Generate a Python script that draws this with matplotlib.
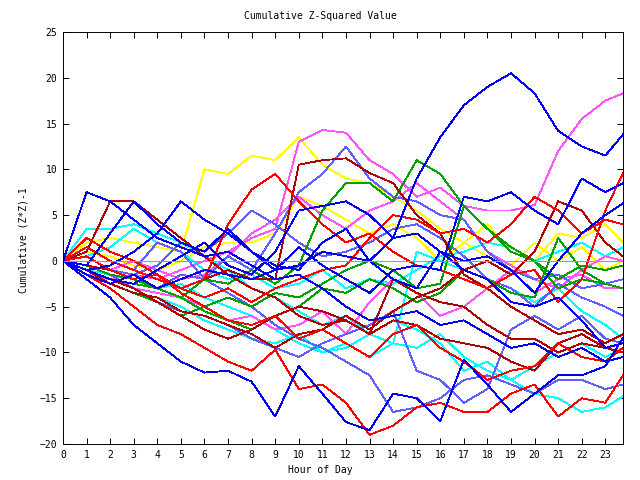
import matplotlib
matplotlib.use("Agg")
import matplotlib.pyplot as plt

# hour grid shared by every series (last point is 23:45)
hours = list(range(24)) + [23.75]

# values, one list per trace
blue1 = [0, -1.5, -2.5, -1.5, -3, -2, -1, -1.5, -2, -1, -0.5, 1, 0.5, 0, 2.5, 9, 13.5, 17, 19, 20.5, 18.3, 14.2, 12.5, 11.5, 13.8]
blue2 = [0, 7.5, 6.5, 4.5, 2.5, 1.5, 0.5, 1, -0.5, -2, -1.5, -3, -5, -6.5, -6, -5.5, -7, -6.5, -8, -9.5, -9, -10.5, -9.5, -11, -10.5]
blue3 = [0, -2, -4, -7, -9, -11, -12.2, -12, -13.2, -17, -11.5, -14.5, -17.6, -18.5, -14.5, -15, -17.5, -10.8, -13.5, -16.5, -14.5, -12.5, -12.5, -11.5, -8.4]
blue4 = [0, -0.5, 3, 6.5, 4, 2, 1, 3.5, 1, -1, 1.5, -0.5, -2, -3.5, -1, -0.5, -1, 7, 6.5, 7.5, 5.5, 4, 9, 7.5, 8.5]
blue5 = [0, -1, -0.5, 1, 3, 6.5, 4.5, 3, 1, -0.5, -1, 2, 3.5, 0, -2, -3, 1, 0, 0.5, -1, -3.5, 0, 3, 5, 6.3]
blue6 = [0, -1, -2, -2.5, -1, 0.5, 2, -0.5, -1.5, 1, 5.5, 6, 6.5, 5, 2.5, 3, 1, -1, -2, -4.5, -5, -4, -6.5, -9.5, -9]
red1 = [0, -1.5, -3, -5, -7, -8, -9.5, -11, -12, -9.7, -14, -13.5, -15.5, -19, -18, -16, -15.5, -16.5, -16.5, -14.5, -13.5, -17, -15, -15.5, -12.5]
red2 = [0, 0.5, -1, -2, -1.5, -3, -2, 4, 7.8, 9.5, 6.5, 4, 2, 3, 1, -0.5, -1, -2, -3, -1.5, -1, -4.5, -2, 5.5, 9.6]
red3 = [0, 1.5, 0, -1, -2, -3, -4, -3, -4.5, -3, -2, -1, -0.5, 2.5, 5, 4.5, 3, 3.5, 2, 4, 7, 5.5, 3, 4.5, 4]
red4 = [0, 2.5, 1, 0, -1.5, -3.5, -5, -6.5, -7, -6, -8.5, -7.5, -9, -10.5, -8, -7, -9.5, -11, -13, -12, -11.5, -9, -10.5, -11, -9.5]
dkred1 = [0, 1, 6.5, 6.5, 4.5, 2.5, 0.5, -1.5, -3, -4, -6, -7, -6.5, -8, -6.5, -7, -8.5, -9, -9.5, -11, -12, -9, -8, -9.5, -10]
dkred2 = [0, -0.5, -1, -2, -1.5, -3, -2, -1, -2, -2, 10.5, 11, 11.2, 9.6, 8.5, 5, 3, -1.5, -3, -5, -6.5, -8, -7.5, -9, -8]
dkred3 = [0, -1, -2.5, -3.5, -4, -5.5, -6, -7, -8, -9.5, -8, -7.5, -6, -7.5, -5.5, -4, -3, -1, 0, -1.5, 1, 6.5, 5.5, 2, 0.5]
dkred4 = [0, -1, -2, -3, -4.5, -6, -7.5, -8.5, -7.5, -6, -5, -5.5, -6.5, -8, -2, -3.5, -4.5, -5, -7, -8.5, -8.5, -10, -9, -9.5, -9]
mag1 = [0, -1, -2, -1.5, -2, -1, 0, 1, 2.5, 3.5, 13, 14.3, 14, 11, 9.5, 7, 8, 6, 5.5, 5.5, 6.1, 12, 15.5, 17.5, 18.3]
mag2 = [0, -1.5, -2, -3, -3.5, -4, -5, -6.5, -6, -7.5, -7, -5.5, -8, -4.5, -2, -3.5, -6, -5, -3, -1, -3.5, -2, -1.5, -3, -3]
mag3 = [0, -0.5, -1, 0, -1, -2, -1.5, 0.5, 3, 4.5, 7, 5, 3.5, 5.5, 6.5, 8.5, 6.5, 4.5, 1, -0.5, -2, -3, -1, 0.5, 0]
yel1 = [0, 2, 2.5, 2, 1.5, 1, 10, 9.5, 11.5, 11, 13.5, 10.5, 9, 8.5, 7, 5.5, 3.5, 2, 0.5, -0.5, 2, 0, 1.5, -1, 0]
yel2 = [0, 1, 0.5, -0.5, -1, 0, 1.5, 2, 2, 3, 7, 6, 4.5, 3, 4, 2.5, 0, 2, 4, 1, 0, 3, 2.5, 4, 2]
cyan1 = [0, 3.5, 3.5, 4, 3, 2, 0.5, -1, -3, -4, -5.5, -7, -6, -8, -9, -9.5, -8, -10.5, -12, -13, -14.5, -15, -16.5, -16, -14.8]
cyan2 = [0, -1, -2.5, -3.5, -4, -5, -6.5, -7.5, -8.5, -9, -8, -10, -9, -10.5, -9, 1, 0, -1, -2, -3, -4.5, -3, -5.5, -7, -8.5]
cyan3 = [0, -1, -1.5, -2, -3, -2.5, -4, -5, -6, -7.5, -9, -10, -9.5, -8, -6.5, -7.5, -9, -12, -11, -13, -11.5, -10, -9, -10.5, -9.5]
cyan4 = [0, 0.5, 1.5, 3.5, 2, 1, -1, -2, -1.5, -3, -2.5, -1, -3, -2, -2.5, -1, 0.5, 1, 2, 1.5, 0, 1, 2, 0.5, 1.5]
slate1 = [0, -1, -2, -2.5, -3, -1.5, -2, 0.5, -1, 3, 7.5, 9.5, 12.5, 9, 7, 6.5, 5, 4.5, 1, -1, -2, -1.5, -3, -2.5, -2]
slate2 = [0, 1.5, 0, -1, 2, 1, -2, -3.5, -5, -7, -8.5, -9.5, -11, -12.5, -16.5, -16, -15, -13, -12.5, -13.5, -14.5, -13, -13, -14, -13.5]
slate3 = [0, -0.5, -1.5, -3, -4.5, -5.5, -6, -7, -8.5, -9.5, -10.5, -9, -8, -7, -5.5, -12, -13, -15.5, -14, -7.5, -6, -7.5, -6, -8.5, -9]
slate4 = [0, -0.5, -1, -1.5, -0.5, 2, 1, 3, 5.5, 4, 2, 0.5, 1, 2, 3.5, 4, 2.5, 0.5, -2, -3, -5, -2.5, -4, -5, -6]
green1 = [0, -1, -2, -2.5, -3, -4, -2, -2.5, -1, -2.5, -0.5, 5.5, 8.5, 8.5, 6.5, 11, 9.5, 6, 3.5, 1.5, 0, -3, -2, -2.5, -3]
green2 = [0, -1.5, -2.5, -3.5, -4.5, -6, -5, -4, -5, -3.5, -4, -2.5, -1, 0, -1, -3, -2.5, 6, 3.5, 1, 0, -2, -0.5, -1, -0.5]
green3 = [0, -0.5, -1.5, -2, -3, -4, -5.5, -6.5, -7.5, -6, -5, -3, -3.5, -2, -3, -4.5, -3.5, -1, -2, -3.5, -4, 2.5, -1, -2.5, -3]

BLUE = "#0000ee"
RED = "#ff0000"
DKRED = "#b00000"
GREEN = "#00a000"
MAG = "#ff55ff"
YEL = "#ffff00"
CYAN = "#00ffff"
SLATE = "#6060ff"

series = [
    (yel1, YEL), (yel2, YEL), (cyan1, CYAN), (cyan2, CYAN), (cyan3, CYAN), (cyan4, CYAN),
    (mag1, MAG), (mag2, MAG), (mag3, MAG), (slate1, SLATE), (slate2, SLATE), (slate3, SLATE), (slate4, SLATE),
    (green1, GREEN), (green2, GREEN), (green3, GREEN),
    (dkred1, DKRED), (dkred2, DKRED), (dkred3, DKRED), (dkred4, DKRED),
    (red1, RED), (red2, RED), (red3, RED), (red4, RED),
    (blue1, BLUE), (blue2, BLUE), (blue3, BLUE), (blue4, BLUE), (blue5, BLUE), (blue6, BLUE),
]

plt.rcParams["font.family"] = "DejaVu Sans Mono"
fig = plt.figure(figsize=(6.4, 4.8), dpi=100)
ax = fig.add_axes([63 / 640, 1 - 444 / 480, 560 / 640, 412 / 480])

for vals, col in series:
    ax.plot(hours, vals, color=col, lw=0.6, antialiased=False)
ax.axhline(0, color=MAG, lw=0.6, antialiased=False)

ax.set_xlim(0, 23.75)
ax.set_ylim(-20, 25)
ax.set_xticks(range(24))
ax.set_yticks(range(-20, 26, 5))
ax.tick_params(direction="in", length=4, width=0.7, top=True, right=True, labelsize=7, pad=4)
for s in ax.spines.values():
    s.set_linewidth(0.7)

fig.text(0.5, 1 - 16 / 480, "Cumulative Z-Squared Value", ha="center", va="center", fontsize=7)
fig.text(0.5, 1 - 470 / 480, "Hour of Day", ha="center", va="center", fontsize=7)
fig.text(24 / 640, 0.5, "Cumulative (Z*Z)-1", ha="center", va="center", rotation=90, fontsize=7)

fig.savefig("out.png", dpi=100)
